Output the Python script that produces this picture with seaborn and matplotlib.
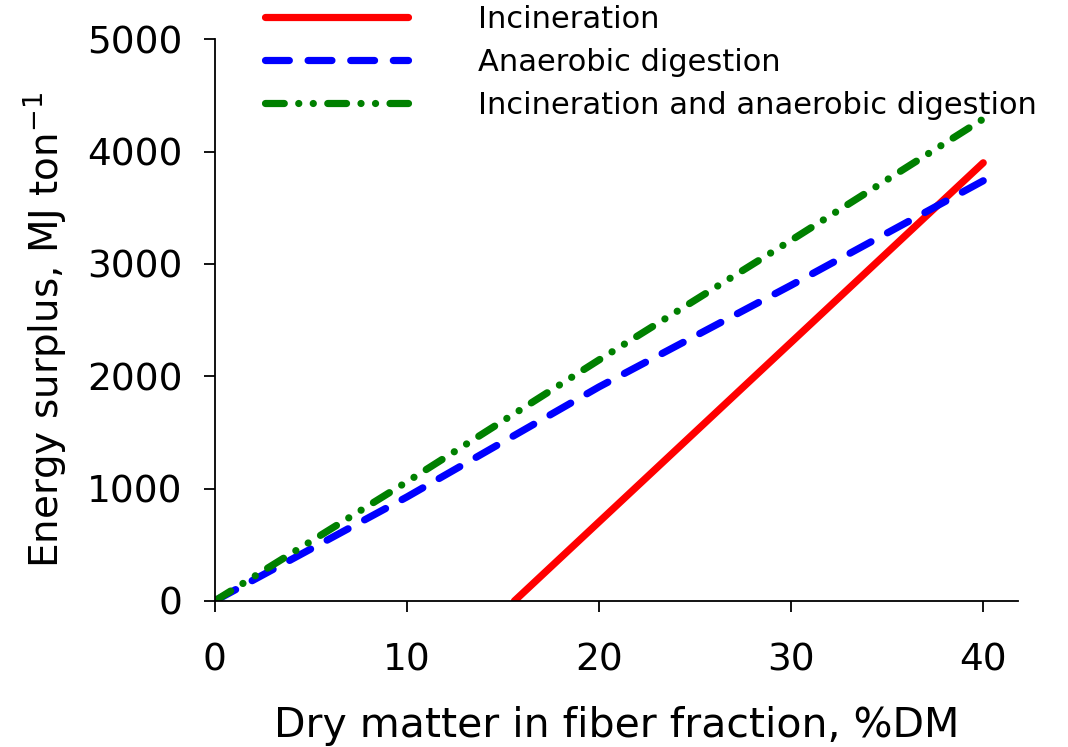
import matplotlib
matplotlib.use("Agg")
import matplotlib.pyplot as plt
import seaborn as sns
import pandas as pd

# Data
inc_x = [15.6, 40]
inc_y = [0, 3900]
ad_x = [0, 10, 20, 30, 40]
ad_y = [0, 925, 1905, 2810, 3740]
both_x = [0, 10, 20, 30, 40]
both_y = [0, 1060, 2145, 3210, 4290]
labels = ["Incineration", "Anaerobic digestion", "Incineration and anaerobic digestion"]
colors = ["#ff0000", "#0000ff", "#008000"]
xticks = [0, 10, 20, 30, 40]
yticks = [0, 1000, 2000, 3000, 4000, 5000]

sns.set_theme(style="ticks")
plt.rcParams['font.family'] = ['DejaVu Sans']

fig = plt.figure(figsize=(10.68, 7.47), dpi=100)
ax = fig.add_axes([0.201, 0.1955, 0.752, 0.752])

series = [(inc_x, inc_y), (ad_x, ad_y), (both_x, both_y)]
lines = []
for (xs, ys), lab, col in zip(series, labels, colors):
    df = pd.DataFrame({"x": xs, "y": ys})
    sns.lineplot(data=df, x="x", y="y", ax=ax, color=col, lw=5.2, label=lab, legend=False)
    lines.append(ax.lines[-1])

lines[0].set_solid_capstyle("round")
lines[1].set_dashes([3.3, 2.6])
lines[1].set_dash_capstyle("round")
lines[2].set_dashes([2.6, 2.0, 0.01, 2.0, 0.01, 2.0])
lines[2].set_dash_capstyle("round")

ax.set_xlim(0, 41.8)
ax.set_ylim(0, 5000)
ax.set_xticks(xticks)
ax.set_yticks(yticks)
ax.tick_params(axis="both", labelsize=27, length=8, width=1.3, direction="out", colors="black")
ax.tick_params(axis="x", pad=22)
ax.tick_params(axis="y", pad=15)
for s in ["top", "right"]:
    ax.spines[s].set_visible(False)
for s in ["left", "bottom"]:
    ax.spines[s].set_linewidth(1.3)
    ax.spines[s].set_color("black")

ax.set_xlabel("Dry matter in fiber fraction, %DM", fontsize=29.5, labelpad=20, color="black")
ax.set_ylabel("Energy surplus, MJ ton$^{-1}$", fontsize=28, labelpad=14, color="black")
ax.yaxis.label.set_y(0.482)

fig.legend(handles=lines, labels=labels, loc="upper left", bbox_to_anchor=(0.222, 1.03),
           frameon=False, fontsize=22, handlelength=4.7, handletextpad=2.3, labelspacing=0.45,
           labelcolor="black")

fig.savefig("out.png", dpi=100)
